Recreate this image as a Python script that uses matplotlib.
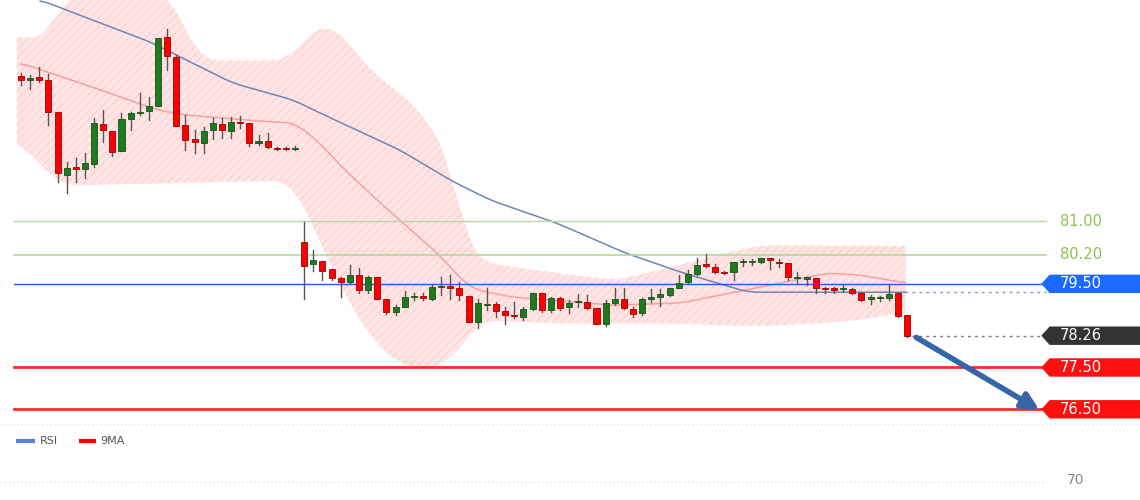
import matplotlib
matplotlib.use("Agg")
import matplotlib.pyplot as plt
from matplotlib.patches import Polygon, Rectangle
import numpy as np

opens = [84.47,84.38,84.45,84.38,83.61,82.10,82.30,82.25,82.37,83.32,83.16,82.68,83.44,83.59,83.64,83.75,85.40,84.93,83.30,82.97,
         82.87,83.18,83.32,83.16,83.37,83.35,82.87,82.92,82.75,82.75,82.73,
         80.50,79.97,80.04,79.85,79.64,79.54,79.71,79.35,79.66,79.13,78.82,78.94,79.18,79.21,79.13,79.42,79.45,79.40,79.21,78.58,
         78.99,79.01,78.85,78.75,78.70,78.90,79.28,78.87,79.16,78.94,79.06,79.06,78.92,78.54,79.04,79.13,78.90,78.80,79.13,79.18,
         79.23,79.40,79.54,79.73,79.97,79.90,79.78,79.78,80.02,80.02,80.02,80.11,80.02,80.00,79.64,79.61,79.64,79.40,79.37,79.37,
         79.37,79.28,79.13,79.16,79.16,79.28,78.75]
highs = [84.54,84.50,84.69,84.52,83.61,82.41,82.51,82.63,83.47,83.66,83.16,83.59,83.61,84.07,83.97,85.38,85.60,84.98,83.54,83.18,
         83.25,83.47,83.47,83.49,83.52,83.35,83.06,83.11,82.77,82.77,82.80,
         80.98,80.31,80.04,79.85,79.66,79.95,79.88,79.68,79.66,79.13,78.99,79.33,79.28,79.28,79.47,79.66,79.71,79.54,79.21,79.13,
         79.40,79.06,78.94,79.06,78.94,79.28,79.28,79.18,79.18,79.11,79.25,79.23,78.92,79.11,79.40,79.40,78.94,79.16,79.37,79.37,
         79.40,79.71,79.83,80.11,80.21,79.97,79.80,80.02,80.09,80.09,80.11,80.11,80.09,80.00,79.78,79.66,79.64,79.42,79.42,79.47,
         79.40,79.30,79.23,79.21,79.47,79.28,78.75]
lows = [84.26,84.16,84.33,83.30,81.94,81.67,81.94,82.03,82.30,82.89,82.56,82.68,83.18,83.54,83.42,83.75,84.62,83.28,82.70,82.63,
        82.63,82.97,82.99,82.99,83.23,82.80,82.82,82.75,82.70,82.70,82.70,
        79.13,79.80,79.59,79.59,79.18,79.52,79.28,79.28,79.13,78.78,78.75,78.94,79.11,79.11,79.11,79.23,79.13,79.11,78.58,78.44,
        78.87,78.70,78.54,78.68,78.63,78.87,78.82,78.82,78.87,78.80,78.94,78.90,78.54,78.49,78.99,78.90,78.70,78.75,79.06,78.97,
        79.21,79.40,79.52,79.71,79.90,79.76,79.74,79.59,79.92,79.95,80.00,79.85,79.90,79.59,79.52,79.47,79.28,79.28,79.28,79.30,
        79.25,79.09,79.01,79.09,79.11,78.70,78.24]
closes = [84.38,84.42,84.38,83.61,82.15,82.27,82.25,82.39,83.35,83.18,82.65,83.44,83.59,83.61,83.75,85.38,84.95,83.28,82.94,82.89,
          83.16,83.35,83.18,83.37,83.35,82.87,82.92,82.77,82.73,82.73,82.75,
          79.92,80.07,79.80,79.64,79.54,79.71,79.35,79.66,79.13,78.82,78.94,79.18,79.21,79.16,79.42,79.45,79.40,79.23,78.58,79.04,
          79.01,78.85,78.75,78.73,78.90,79.28,78.87,79.16,78.92,79.04,79.09,78.92,78.54,79.04,79.13,78.92,78.78,79.13,79.18,79.25,
          79.40,79.52,79.73,79.95,79.92,79.78,79.76,80.02,80.04,80.04,80.11,80.07,80.00,79.66,79.66,79.66,79.40,79.37,79.36,79.40,
          79.28,79.11,79.18,79.18,79.25,78.73,78.26]

ma_long_x = [2.1,14.1,23.2,29.8,32.7,41.5,47.0,51.4,58.7,65.9,72.2,79.6,96.8]
ma_long_y = [86.29,85.29,84.30,83.90,83.59,82.70,81.98,81.50,80.95,80.26,79.78,79.30,79.30]
ma9_x = [0,8.7,14.9,18.0,26.2,30.0,32.7,34.9,39.0,45.6,48.8,49.9,53.9,64.8,72.2,80.9,88.3,91.9,96.8]
ma9_y = [84.78,84.14,83.66,83.54,83.39,83.35,82.87,82.34,81.50,80.23,79.47,79.35,79.18,78.99,79.04,79.42,79.76,79.71,79.52]
bb_up_x = [-0.5,2.8,3.5,4.8,16,19.6,29.5,30.6,32.8,34.5,38.2,43.7,47.0,48.6,50.0,53.9,65,70,78,81,96.8]
bb_up_y = [85.40,85.40,85.60,86.50,86.50,84.85,84.85,85.33,85.69,85.62,84.62,83.66,82.46,80.52,80.07,79.90,79.59,79.85,80.30,80.43,80.41]
bb_lo_x = [-0.5,4.3,29.5,30.6,35.7,39.3,42.9,46.7,48.8,49.9,60,72,80,90,96.8]
bb_lo_y = [82.94,81.86,81.98,81.50,79.11,77.92,77.44,77.61,78.16,78.63,78.56,78.56,78.49,78.60,78.82]

levels = [81.00, 80.20, 79.50, 77.50, 76.50]
level_labels = ["81.00", "80.20", "79.50", "77.50", "76.50"]
last_price = 78.26
rsi_label = "70"

fig = plt.figure(figsize=(11.4, 5), dpi=100)
ax = fig.add_axes([0, 0, 1, 1])
X0 = -2.3; X1 = 122.5
ax.set_xlim(X0, X1)
ax.set_ylim(74.33, 86.29)
ax.axis("off")

def smooth(xs, ys, grid, k=9):
    v = np.interp(grid, xs, ys)
    pad = np.pad(v, k, mode="edge")
    return np.convolve(pad, np.ones(2 * k + 1) / (2 * k + 1), mode="same")[k:-k]

grid = np.linspace(-0.5, 96.8, 500)
up = smooth(bb_up_x, bb_up_y, grid)
lo = smooth(bb_lo_x, bb_lo_y, grid)
ax.fill_between(grid, lo, up, color="#ffe6e6", lw=0, zorder=1)
ax.fill_between(grid, lo, up, facecolor="none", edgecolor="#ffd0d0", hatch="////", lw=0, zorder=1)
plt.rcParams["hatch.linewidth"] = 0.4

g2 = np.linspace(0, 96.8, 400)
ax.plot(g2, smooth(ma9_x, ma9_y, g2, 5), color="#f7a0a0", lw=1.1, zorder=2)
g3 = np.linspace(2.1, 96.8, 400)
ax.plot(g3, smooth(ma_long_x, ma_long_y, g3, 5), color="#6d86b8", lw=1.1, zorder=2)

lvl_col = ["#b9d4a6", "#b4d89a", "#1a5cff", "#ff2a2a", "#ff2a2a"]
lvl_lw = [1, 1.2, 1, 2, 2]
for v, c, w in zip(levels, lvl_col, lvl_lw):
    ax.plot([-0.8, 112.2], [v, v], color=c, lw=w, zorder=2)
ax.plot([96.8, 112.2], [79.30, 79.30], color="#8899bb", lw=1, ls=(0, (2, 3)), zorder=2)
ax.plot([96.8, 112.2], [last_price, last_price], color="#777777", lw=1, ls=(0, (2, 3)), zorder=2)

for i, (o, h, l, c) in enumerate(zip(opens, highs, lows, closes)):
    up_c = c >= o
    ax.plot([i, i], [l, h], color="#555555", lw=1, zorder=3)
    fc = "#1f7a1f" if up_c else "#ff0000"
    ec = "#145214" if up_c else "#a00000"
    bot = min(o, c); hgt = max(abs(c - o), 0.03)
    ax.add_patch(Rectangle((i - 0.33, bot), 0.66, hgt, facecolor=fc, edgecolor=ec, lw=0.6, zorder=4))

ax.annotate("", xy=(111.5, 76.48), xytext=(98.0, 78.22),
            arrowprops=dict(arrowstyle="-|>,head_width=0.5,head_length=1.0", color="#3765a8", lw=4, shrinkA=0, shrinkB=0),
            zorder=5)

def tag(y, text, fc):
    x0, x1, tip = 112.6, 122.6, 111.7
    h = 0.22
    ax.add_patch(Polygon([[tip, y], [x0, y + h], [x1, y + h], [x1, y - h], [x0, y - h]], closed=True,
                         facecolor=fc, edgecolor="none", zorder=6))
    ax.text(113.7, y, text, color="white", fontsize=10.5, va="center", ha="left", zorder=7)

ax.text(113.7, levels[0], level_labels[0], color="#8cc152", fontsize=10.5, va="center")
ax.text(113.7, levels[1], level_labels[1], color="#8cc152", fontsize=10.5, va="center")
tag(levels[2], level_labels[2], "#1a6aff")
tag(last_price, f"{last_price:.2f}", "#333333")
tag(levels[3], level_labels[3], "#ff1010")
tag(levels[4], level_labels[4], "#ff1010")

ax.plot([X0, X1], [76.15, 76.15], color="#e4e4e4", lw=1, ls=(0, (1, 2)))
ax.plot([X0, 112.2], [74.76, 74.76], color="#dddddd", lw=1, ls=(0, (1, 2)))
ax.plot([-0.6, 1.5], [75.74, 75.74], color="#5b7fd6", lw=3, solid_capstyle="butt")
ax.text(2.1, 75.74, "RSI", fontsize=8, color="#555555", va="center")
ax.plot([6.4, 8.2], [75.74, 75.74], color="#ff0000", lw=3, solid_capstyle="butt")
ax.text(8.7, 75.74, "9MA", fontsize=8, color="#555555", va="center")
ax.text(114.5, 74.81, rsi_label, fontsize=10, color="#888888", va="center")

fig.savefig("out.png", dpi=100)
